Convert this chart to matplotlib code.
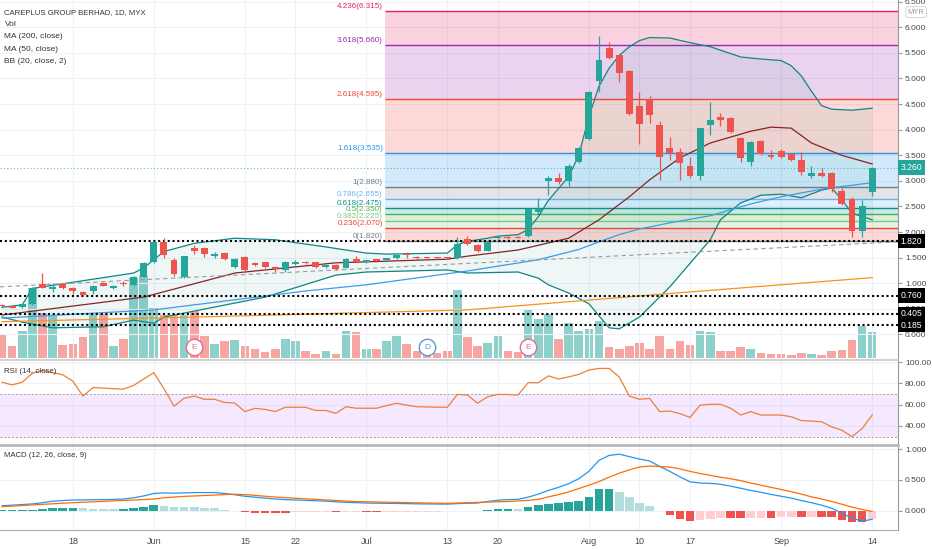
import numpy as np
import pandas as pd
import matplotlib.pyplot as plt

plt.rcParams['font.family'] = ['Liberation Sans', 'DejaVu Sans']

# trading days on screen (MYX holidays skipped)
holidays = ["2020-05-07", "2020-05-25", "2020-05-26", "2020-06-08",
            "2020-07-31", "2020-08-20", "2020-08-31"]
days = pd.bdate_range("2020-05-06", "2020-09-14")
days = days[~days.isin(pd.to_datetime(holidays))]

tick_dates = ["2020-05-18", "2020-06-01", "2020-06-15", "2020-06-22", "2020-07-01", "2020-07-13",
              "2020-07-20", "2020-08-03", "2020-08-10", "2020-08-17", "2020-09-01", "2020-09-14"]
tick_labels = ["18", "Jun", "15", "22", "Jul", "13", "20", "Aug", "10", "17", "Sep", "14"]

opens = [0.57, 0.555, 0.535, 0.60, 0.98, 0.88, 0.98, 0.90, 0.835, 0.84, 1.00, 0.91, 1.00, 0.97, 1.13,
         1.42, 1.81, 1.455, 1.12, 1.68, 1.68, 1.54, 1.60, 1.32, 1.51, 1.39, 1.41, 1.32, 1.25, 1.37,
         1.42, 1.41, 1.31, 1.36, 1.30, 1.47, 1.42, 1.47, 1.46, 1.49, 1.57, 1.52, 1.51, 1.51, 1.51,
         1.49, 1.87, 1.75, 1.64, 1.89, 1.91, 1.91, 1.92, 2.40, 3.00, 3.06, 3.00, 3.36, 3.81, 4.95,
         5.59, 5.46, 5.15, 4.46, 4.60, 4.10, 3.65, 3.57, 3.30, 3.10, 4.09, 4.25, 4.22, 3.84, 3.36,
         3.78, 3.51, 3.59, 3.52, 3.41, 3.10, 3.16, 3.15, 2.80, 2.64, 2.03, 2.79]
highs = [0.59, 0.57, 0.60, 0.93, 1.20, 1.00, 1.00, 0.92, 0.85, 0.96, 1.03, 0.97, 1.05, 1.14, 1.42,
         1.83, 1.88, 1.50, 1.54, 1.75, 1.70, 1.62, 1.62, 1.49, 1.53, 1.41, 1.42, 1.33, 1.43, 1.46,
         1.44, 1.42, 1.37, 1.37, 1.49, 1.53, 1.46, 1.48, 1.50, 1.57, 1.62, 1.53, 1.52, 1.52, 1.52,
         1.91, 1.92, 1.76, 1.82, 1.93, 1.92, 1.92, 2.46, 2.67, 3.10, 3.15, 3.33, 3.67, 4.75, 5.83,
         5.72, 5.48, 5.17, 4.74, 4.66, 4.16, 3.86, 3.64, 3.47, 4.04, 4.55, 4.32, 4.24, 3.86, 3.77,
         3.80, 3.60, 3.63, 3.54, 3.56, 3.29, 3.26, 3.17, 2.855, 2.69, 2.63, 3.27]
lows = [0.53, 0.51, 0.52, 0.58, 0.90, 0.82, 0.88, 0.80, 0.75, 0.80, 0.94, 0.89, 0.94, 0.95, 1.12,
        1.40, 1.50, 1.14, 1.10, 1.58, 1.52, 1.50, 1.45, 1.30, 1.24, 1.33, 1.29, 1.22, 1.23, 1.35,
        1.37, 1.30, 1.29, 1.26, 1.29, 1.41, 1.40, 1.42, 1.45, 1.48, 1.49, 1.47, 1.48, 1.48, 1.47,
        1.48, 1.75, 1.62, 1.63, 1.87, 1.87, 1.88, 1.90, 2.35, 2.72, 2.93, 2.90, 3.34, 3.80, 4.74,
        5.38, 4.94, 4.29, 3.73, 4.13, 3.02, 3.41, 3.02, 3.05, 3.02, 3.90, 4.07, 3.93, 3.36, 3.30,
        3.51, 3.42, 3.45, 3.39, 3.115, 3.05, 3.08, 2.79, 2.53, 1.91, 1.91, 2.705]
closes = [0.55, 0.525, 0.59, 0.91, 0.915, 0.92, 0.90, 0.84, 0.77, 0.945, 0.955, 0.945, 0.98, 1.13, 1.40,
          1.81, 1.55, 1.18, 1.53, 1.63, 1.57, 1.57, 1.48, 1.47, 1.26, 1.36, 1.31, 1.27, 1.41, 1.41,
          1.39, 1.32, 1.36, 1.28, 1.47, 1.42, 1.45, 1.44, 1.49, 1.56, 1.55, 1.49, 1.49, 1.50, 1.49,
          1.77, 1.77, 1.64, 1.81, 1.91, 1.89, 1.89, 2.45, 2.46, 3.05, 2.97, 3.30, 3.65, 4.74, 5.37,
          5.40, 5.11, 4.31, 4.12, 4.29, 3.46, 3.54, 3.34, 3.10, 4.03, 4.19, 4.18, 3.95, 3.45, 3.75,
          3.53, 3.47, 3.47, 3.41, 3.18, 3.15, 3.10, 2.84, 2.55, 2.03, 2.51, 3.26]
volume = [23, 12, 27, 70, 45, 42, 13, 14, 21, 44, 44, 12, 19, 80, 82,
          50, 43, 43, 43, 47, 22, 14, 17, 18, 12, 9, 6, 9, 19, 17,
          7, 4, 7, 4, 27, 26, 9, 9, 17, 22, 14, 7, 6, 5, 7,
          68, 21, 12, 15, 22, 7, 6, 49, 39, 44, 19, 35, 27, 29, 37,
          11, 9, 12, 15, 9, 22, 9, 17, 13, 27, 26, 7, 7, 11, 9,
          5, 4, 4, 3, 5, 4, 3, 7, 8, 18, 32, 26]
events_date = ["2020-06-05", "2020-07-09", "2020-07-23"]
events_txt = ["E", "D", "E"]

# overlays, read at selected bars
ma200_at = [0, 23, 46, 66, 86]
ma200 = [0.25, 0.36, 0.48, 0.80, 1.11]
ma50_at = [0, 15, 30, 36, 46, 53, 57, 59, 61, 63, 66, 70, 74, 77, 81, 86]
ma50 = [0.32, 0.48, 0.85, 0.97, 1.24, 1.46, 1.66, 1.81, 1.95, 2.06, 2.18, 2.32, 2.55, 2.69, 2.84, 2.965]
bb_up_at = [0, 2, 3, 13, 14, 16, 19, 23, 27, 32, 36, 38, 44, 45, 46, 47, 48, 49, 51, 52, 53, 54, 55,
            56, 57, 58, 59, 60, 61, 62, 63, 64, 66, 68, 70, 73, 75, 77, 78, 79, 80, 81, 82, 84, 86]
bb_up = [0.53, 0.58, 0.90, 1.20, 1.30, 1.62, 1.78, 1.88, 1.85, 1.71, 1.59, 1.57, 1.59, 1.75, 1.82,
         1.85, 1.88, 1.92, 1.95, 2.05, 2.30, 2.62, 2.85, 3.08, 3.50, 4.25, 4.85, 5.20, 5.45, 5.62,
         5.74, 5.80, 5.79, 5.70, 5.62, 5.42, 5.38, 5.35, 5.25, 5.05, 4.75, 4.47, 4.40, 4.38, 4.42]
bb_lo_at = [0, 2, 5, 10, 13, 15, 16, 26, 33, 36, 44, 46, 51, 53, 54, 56, 58, 60, 61, 63, 66, 69,
            70, 71, 73, 75, 77, 79, 81, 82, 83, 84, 86]
bb_lo = [0.34, 0.24, 0.13, 0.15, 0.28, 0.22, 0.34, 0.73, 1.16, 1.22, 1.26, 1.20, 1.22, 1.10, 0.97,
         0.81, 0.60, 0.13, 0.11, 0.34, 0.93, 1.62, 1.85, 2.24, 2.57, 2.72, 2.74, 2.67, 2.82, 2.86,
         2.63, 2.37, 2.24]
bb_mid_at = [0, 14, 23, 33, 44, 46, 51, 56, 59, 62, 64, 67, 70, 74, 76, 78, 80, 83, 86]
bb_mid = [0.38, 0.73, 1.20, 1.40, 1.47, 1.53, 1.65, 1.88, 2.24, 2.69, 3.02, 3.45, 3.74, 3.97, 4.05,
          4.03, 3.74, 3.50, 3.33]
trend_ends = [0.93, 1.81]
sr_levels = [1.820, 0.760, 0.405, 0.185]

fib_ratio = ["0", "0.236", "0.382", "0.5", "0.618", "0.786", "1", "1.618", "2.618", "3.618", "4.236"]
fib_price = [1.820, 2.070, 2.225, 2.350, 2.475, 2.655, 2.880, 3.535, 4.595, 5.660, 6.315]
fib_colors = ['#787B86', '#F44336', '#81C784', '#4CAF50', '#009688', '#64B5F6', '#787B86',
              '#2196F3', '#F44336', '#9C27B0', '#E91E63']

rsi = [81, 78.5, 81, 89.5, 92, 90, 88, 82, 68, 76, 75.5, 75, 74.5, 78, 84,
       90, 75, 58.5, 66, 68, 65, 65, 62, 61.5, 53.5, 56.5, 55.5, 53.5, 57.5, 57.5,
       57.5, 54.5, 54.5, 51.8, 58, 56.6, 56.6, 56.6, 59, 61.3, 59.5, 58, 57.8, 57.5, 57.5,
       69.6, 69, 61.3, 67.4, 69.6, 69.5, 69, 80.6, 80.6, 87, 84, 86, 88.4, 92.5, 94,
       94, 86, 68, 65, 65.8, 53.4, 54, 51.5, 48, 59.5, 60.3, 60.3, 56.6, 50.2, 53.4,
       50.2, 50.2, 50.2, 48.6, 45, 44.5, 43.9, 39.1, 36, 29.9, 37.4, 50.2]
macd = [0.08, 0.09, 0.10, 0.11, 0.13, 0.155, 0.165, 0.174, 0.175, 0.178, 0.18, 0.183, 0.19, 0.21, 0.24,
        0.28, 0.29, 0.285, 0.29, 0.295, 0.295, 0.295, 0.28, 0.26, 0.235, 0.22, 0.205, 0.19, 0.18, 0.175,
        0.168, 0.162, 0.155, 0.145, 0.136, 0.13, 0.125, 0.122, 0.12, 0.118, 0.115, 0.112, 0.11, 0.108, 0.107,
        0.115, 0.12, 0.125, 0.15, 0.17, 0.18, 0.185, 0.22, 0.27, 0.33, 0.38, 0.44, 0.52, 0.64, 0.82,
        0.90, 0.92, 0.88, 0.84, 0.81, 0.72, 0.64, 0.55, 0.47, 0.45, 0.445, 0.43, 0.40, 0.365, 0.33,
        0.30, 0.265, 0.235, 0.205, 0.165, 0.13, 0.09, 0.04, -0.04, -0.12, -0.17, -0.14]
signal = [0.066, 0.075, 0.085, 0.094, 0.103, 0.112, 0.122, 0.13, 0.138, 0.145, 0.152, 0.16, 0.167, 0.174, 0.181,
          0.19, 0.21, 0.222, 0.233, 0.24, 0.247, 0.254, 0.262, 0.268, 0.262, 0.25, 0.235, 0.222, 0.212, 0.203,
          0.193, 0.184, 0.175, 0.166, 0.157, 0.148, 0.145, 0.142, 0.138, 0.135, 0.132, 0.128, 0.125, 0.122, 0.12,
          0.125, 0.13, 0.135, 0.14, 0.145, 0.15, 0.158, 0.168, 0.185, 0.225, 0.262, 0.305, 0.36, 0.415, 0.475,
          0.545, 0.61, 0.665, 0.71, 0.727, 0.72, 0.71, 0.68, 0.64, 0.605, 0.575, 0.545, 0.52, 0.49, 0.45,
          0.415, 0.38, 0.345, 0.31, 0.27, 0.225, 0.19, 0.15, 0.105, 0.058, 0.02, -0.012]

UP, DN = '#26A69A', '#EF5350'
GRID = '#eef1f6'
TXT = '#4a4a4a'

opens, highs, lows, closes = map(np.array, (opens, highs, lows, closes))
x = np.arange(len(days))
ticks = days.get_indexer(pd.to_datetime(tick_dates))
xlo, xhi = -0.2, 88.55

fig = plt.figure(figsize=(9.32, 5.5), dpi=100)
ax = fig.add_axes([0, 0.3455, 0.9635, 0.6545])
vax = ax.twinx()
rax = fig.add_axes([0, 0.1909, 0.9635, 0.1527], sharex=ax)
max_ = fig.add_axes([0, 0.0364, 0.9635, 0.1509], sharex=ax)

# volume behind everything
vcol = np.where(closes >= opens, UP, DN)
vax.bar(x, volume, 0.85, color=vcol, alpha=0.52, linewidth=0)
vax.set_ylim(-1.5, 358.5)
vax.set_yticks([])
for s in vax.spines.values():
    s.set_visible(False)
ax.set_zorder(vax.get_zorder() + 1)
ax.patch.set_visible(False)

# fib retracement
fib_left = days.get_loc(pd.Timestamp("2020-07-03")) - 0.15
for i, (r, p, c) in enumerate(zip(fib_ratio, fib_price, fib_colors)):
    ax.hlines(p, fib_left, xhi, color=c, lw=1, zorder=1.2)
    if i > 0:
        ax.fill_between([fib_left, xhi], fib_price[i - 1], p, color=c, alpha=0.2, lw=0, zorder=1)
    ax.text(fib_left - 0.2, p + 0.02, f"{r}({p:.3f})", color=c, fontsize=5.8, ha='right', va='bottom')

# bollinger bands
xf = np.arange(len(days))
ub = np.interp(xf, bb_up_at, bb_up)
lb = np.interp(xf, bb_lo_at, bb_lo)
ax.fill_between(xf, lb, ub, color='#198787', alpha=0.07, lw=0, zorder=1.5)
ax.plot(bb_up_at, bb_up, color='#138484', lw=0.9, zorder=3)
ax.plot(bb_lo_at, bb_lo, color='#138484', lw=0.9, zorder=3)
ax.plot(bb_mid_at, bb_mid, color='#872323', lw=0.9, zorder=3)
ax.plot(ma50_at, ma50, color='#3d9be9', lw=0.9, zorder=3)
ax.plot(ma200_at, ma200, color='#F7931E', lw=0.9, zorder=3)
ax.plot([xlo, xhi], trend_ends, color='#9a9a9a', lw=0.8, ls=(0, (4, 3)), zorder=3)

for lv in sr_levels:
    ax.axhline(lv, color='black', lw=1.5, ls=(0, (1, 1.3)), zorder=3.5)
ax.axhline(closes[-1], color=UP, lw=0.8, ls=(0, (1, 2)), alpha=0.7, zorder=3.5)

# candles
ccol = np.where(closes >= opens, UP, DN)
ax.vlines(x, lows, highs, color=ccol, lw=0.9, zorder=5)
ax.bar(x, np.maximum(np.abs(closes - opens), 0.012), 0.68,
       bottom=np.minimum(opens, closes), color=ccol, lw=0, zorder=6)

# earnings / dividend flags
ev_y = -0.245
for d, t in zip(events_date, events_txt):
    i = days.get_loc(pd.Timestamp(d))
    c = '#e96a8d' if t == 'E' else '#5b9bd5'
    ax.scatter(i, ev_y, s=140, facecolor='white', edgecolor=c, lw=1, zorder=7)
    ax.text(i, ev_y, t, color=c, fontsize=6, ha='center', va='center', zorder=8)

ax.set_xlim(xlo, xhi)
ax.set_ylim(-0.498, 6.533)
ax.set_yticks(np.arange(0, 6.51, 0.5))
ax.yaxis.set_major_formatter(plt.FormatStrFormatter('%.3f'))

# RSI
rax.axhspan(30, 70, color='#9915FF', alpha=0.09, lw=0)
for lv in (30, 70):
    rax.axhline(lv, color='#a0a0a0', lw=0.7, ls=(0, (2, 2)))
rax.plot(x, rsi, color='#EE7F36', lw=0.9)
rax.set_ylim(22.06, 100.94)
rax.set_yticks([40, 60, 80, 100])
rax.yaxis.set_major_formatter(plt.FormatStrFormatter('%.2f'))

# MACD
hist = np.array(macd) - np.array(signal)
hcol = []
for i, h in enumerate(hist):
    prev = hist[i - 1] if i else 0
    if h >= 0:
        hcol.append('#26A69A' if h >= prev else '#B2DFDB')
    else:
        hcol.append('#EF5350' if h <= prev else '#FFCDD2')
max_.bar(x, hist, 0.85, color=hcol, lw=0)
max_.plot(x, macd, color='#2196F3', lw=0.9)
max_.plot(x, signal, color='#FF6D00', lw=0.9)
max_.set_ylim(-0.314, 1.037)
max_.set_yticks([0, 0.5, 1.0])
max_.yaxis.set_major_formatter(plt.FormatStrFormatter('%.3f'))

for a in (ax, rax, max_):
    a.yaxis.tick_right()
    a.tick_params(axis='y', labelsize=6, colors='#9a9a9a', labelcolor=TXT, length=3, pad=2)
    a.tick_params(axis='x', length=0)
    a.set_xticks(ticks)
    a.grid(True, color=GRID, lw=0.8)
    a.set_axisbelow(True)
    for s in ('top', 'left'):
        a.spines[s].set_visible(False)
    a.spines['right'].set_color('#9a9a9a')
    a.spines['right'].set_linewidth(0.8)
ax.spines['bottom'].set_color('#c8c8c8')
ax.spines['bottom'].set_linewidth(1.2)
rax.spines['bottom'].set_color('#b8b8b8')
rax.spines['bottom'].set_linewidth(2)
max_.spines['bottom'].set_color('#aaaaaa')
ax.tick_params(axis='x', labelbottom=False)
rax.tick_params(axis='x', labelbottom=False)
max_.set_xticklabels(tick_labels)
max_.tick_params(axis='x', labelsize=6.5, labelcolor=TXT, pad=5)

# right-axis boxes
ytr = ax.get_yaxis_transform()
for lv in sr_levels:
    ax.text(1.003, lv, f"{lv:.3f}", transform=ytr, color='white', fontsize=6.2, ha='left', va='center',
            bbox=dict(boxstyle='square,pad=0.3', fc='black', ec='none'), zorder=10, clip_on=False)
ax.text(1.003, closes[-1], f"{closes[-1]:.3f}", transform=ytr, color='white', fontsize=6.2, ha='left',
        va='center', bbox=dict(boxstyle='square,pad=0.3', fc=UP, ec='none'), zorder=10, clip_on=False)
fig.text(0.983, 0.978, "MYR", color='#9a9a9a', fontsize=5.5, ha='center', va='center',
         bbox=dict(boxstyle='round,pad=0.25', fc='white', ec='#d0d0d0', lw=0.6))

# legends
leg = ["CAREPLUS GROUP BERHAD, 1D, MYX", "Vol", "MA (200, close)", "MA (50, close)", "BB (20, close, 2)"]
leg_size = [5.6, 6.0, 6.0, 6.0, 6.0]
for k, t in enumerate(leg):
    ax.text(0.005, 1 - (12.5 + 12.2 * k) / 360, t, transform=ax.transAxes, fontsize=leg_size[k],
            color='#333333', va='center')
rax.text(0.005, 0.88, "RSI (14, close)", transform=rax.transAxes, fontsize=5.7,
         color='#333333', va='center')
max_.text(0.005, 0.90, "MACD (12, 26, close, 9)", transform=max_.transAxes, fontsize=5.6,
          color='#333333', va='center')

fig.savefig("out.png", dpi=100)
